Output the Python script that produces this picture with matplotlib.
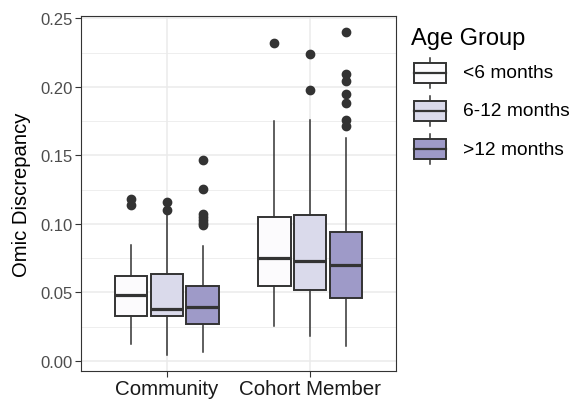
import matplotlib
matplotlib.use("Agg")
import matplotlib.pyplot as plt
from matplotlib.patches import Rectangle
from matplotlib.lines import Line2D

plt.rcParams['font.family'] = ['Liberation Sans', 'DejaVu Sans']

categories = ["Community", "Cohort Member"]
groups = ["<6 months", "6-12 months", ">12 months"]
colors = ["#fcfbfd", "#dadaeb", "#9e9ac8"]

# stats per (category, group): whislo, q1, med, q3, whishi, fliers
whislo = [[0.0124, 0.0046, 0.0063], [0.0253, 0.0180, 0.0112]]
q1 =     [[0.0326, 0.0330, 0.0270], [0.0545, 0.0518, 0.0460]]
med =    [[0.0480, 0.0382, 0.0397], [0.0750, 0.0732, 0.0703]]
q3 =     [[0.0623, 0.0632, 0.0545], [0.1049, 0.1066, 0.0944]]
whishi = [[0.0847, 0.1070, 0.0837], [0.1750, 0.1760, 0.1625]]
fliers = [
    [[0.1185, 0.1140], [0.1160, 0.1100], [0.1467, 0.1255, 0.1070, 0.1050, 0.1030, 0.1010, 0.0990]],
    [[0.2320], [0.2240, 0.1980], [0.2400, 0.2095, 0.2046, 0.1949, 0.1886, 0.1760, 0.1715]],
]
yticks = [0.00, 0.05, 0.10, 0.15, 0.20, 0.25]

W, H = 574, 402
fig = plt.figure(figsize=(W / 100, H / 100), dpi=100)
L, R, T, B = 81, 396, 17, 372
ax = fig.add_axes([L / W, 1 - B / H, (R - L) / W, (B - T) / H])

edge = "#333333"
dodge = 0.25
bw = 0.228
for ci, cat in enumerate(categories):
    for gi, g in enumerate(groups):
        pos = ci + 1 + (gi - 1) * dodge
        st = dict(whislo=whislo[ci][gi], q1=q1[ci][gi], med=med[ci][gi],
                  q3=q3[ci][gi], whishi=whishi[ci][gi], fliers=fliers[ci][gi])
        ax.bxp([st], positions=[pos], widths=bw, showcaps=False, patch_artist=True,
               boxprops=dict(facecolor=colors[gi], edgecolor=edge, linewidth=1.4),
               whiskerprops=dict(color=edge, linewidth=1.1),
               medianprops=dict(color=edge, linewidth=2.3),
               flierprops=dict(marker='o', markerfacecolor=edge, markeredgecolor=edge,
                               markersize=6, linestyle='none'),
               zorder=3)

ax.set_xlim(0.4, 2.6)
ax.set_ylim(-0.0073, 0.2518)
ax.set_xticks([1, 2])
ax.set_xticklabels(categories, fontsize=14.8, color="#1a1a1a")
ax.set_yticks(yticks)
ax.set_yticklabels([f"{v:.2f}" for v in yticks], fontsize=12, color="#4d4d4d")
ax.set_yticks([0.025, 0.075, 0.125, 0.175, 0.225], minor=True)
ax.tick_params(axis='both', which='major', length=4, width=0.8, color="#333333", pad=2)
ax.tick_params(axis='y', which='minor', length=0)
ax.grid(True, which='major', color="#ebebeb", linewidth=1.1, zorder=0)
ax.grid(True, which='minor', axis='y', color="#ebebeb", linewidth=0.6, zorder=0)
ax.set_axisbelow(True)
for s in ax.spines.values():
    s.set_color("#333333")
    s.set_linewidth(0.8)
ax.set_ylabel("Omic Discrepancy", fontsize=14.6, color="black", labelpad=7)

# legend drawn in pixel coordinates
lg = fig.add_axes([0, 0, 1, 1])
lg.set_xlim(0, W)
lg.set_ylim(H, 0)
lg.axis('off')
lg.text(411, 45, "Age Group", fontsize=17, va='baseline', ha='left', color="black")
kx0, kx1 = 414, 446
kc = (kx0 + kx1) / 2
for gi, g in enumerate(groups):
    yc = 73.5 + gi * 38.3
    lg.add_line(Line2D([kc, kc], [yc - 15, yc + 15], color=edge, linewidth=1.1))
    lg.add_patch(Rectangle((kx0, yc - 10), kx1 - kx0, 20, facecolor=colors[gi],
                           edgecolor=edge, linewidth=1.4, zorder=3))
    lg.add_line(Line2D([kx0, kx1], [yc, yc], color=edge, linewidth=1.6, zorder=4))
    lg.text(463, yc, g, fontsize=13.8, va='center', ha='left', color="black")

fig.savefig("out.png", dpi=100)
